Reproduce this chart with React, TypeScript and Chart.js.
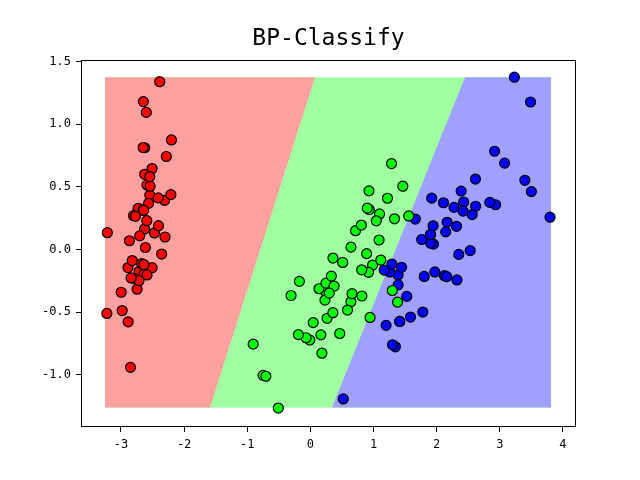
import React, { useEffect, useRef } from "react";
import { Chart, registerables } from "chart.js";

Chart.register(...registerables);

const chartTitle = "BP-Classify";
const xTicks = [-3, -2, -1, 0, 1, 2, 3, 4];
const yTicks = [-1.0, -0.5, 0.0, 0.5, 1.0, 1.5];
const xLimits = [-3.633, 4.207];
const yLimits = [-1.417, 1.511];

// decision-region mesh extent and class boundaries (x at mesh bottom, x at mesh top)
const meshX = [-3.253, 3.811];
const meshY = [-1.262, 1.373];
const boundaryRedGreen = [-1.59, 0.073];
const boundaryGreenBlue = [0.342, 2.449];
const regionColors = ["#FFA0A0", "#A0FFA0", "#A0A0FF"];

const classNames = ["setosa", "versicolor", "virginica"];
const pointColors = ["#FF0000", "#00FF00", "#0000FF"];

const setosaX = [-2.684, -2.714, -2.889, -2.745, -2.729, -2.281, -2.821, -2.626, -2.886, -2.673,
  -2.507, -2.613, -2.786, -3.224, -2.645, -2.386, -2.624, -2.648, -2.2, -2.588,
  -2.31, -2.544, -3.216, -2.303, -2.356, -2.507, -2.469, -2.562, -2.64, -2.632,
  -2.587, -2.41, -2.649, -2.599, -2.637, -2.866, -2.625, -2.801, -2.981, -2.59,
  -2.77, -2.849, -2.997, -2.406, -2.209, -2.714, -2.538, -2.839, -2.543, -2.703];
const setosaY = [0.319, -0.177, -0.145, -0.318, 0.327, 0.741, -0.089, 0.163, -0.578, -0.114,
  0.645, 0.015, -0.235, -0.511, 1.179, 1.338, 0.811, 0.312, 0.873, 0.514,
  0.391, 0.433, 0.133, 0.099, -0.037, -0.146, 0.131, 0.368, 0.312, -0.197,
  -0.204, 0.411, 0.813, 1.093, -0.121, 0.069, 0.599, 0.269, -0.488, 0.229,
  0.264, -0.941, -0.342, 0.189, 0.437, -0.25, 0.504, -0.228, 0.579, 0.108];

const versicolorX = [1.285, 0.932, 1.464, 0.183, 1.088, 0.642, 1.095, -0.749, 1.044, -0.009,
  -0.508, 0.512, 0.265, 0.985, -0.174, 0.928, 0.66, 0.236, 0.945, 0.045,
  1.116, 0.358, 1.298, 0.922, 0.715, 0.9, 1.332, 1.558, 0.813, -0.306,
  -0.068, -0.19, 0.136, 1.38, 0.588, 0.807, 1.221, 0.815, 0.246, 0.166,
  0.465, 0.891, 0.231, -0.705, 0.357, 0.332, 0.376, 0.643, -0.906, 0.299];
const versicolorY = [0.685, 0.318, 0.504, -0.828, 0.075, -0.418, 0.283, -1.005, 0.228, -0.723,
  -1.266, -0.104, -0.55, -0.125, -0.255, 0.467, -0.353, -0.334, -0.543, -0.584,
  -0.085, -0.069, -0.328, -0.183, 0.149, 0.329, 0.244, 0.267, -0.163, -0.368,
  -0.705, -0.68, -0.314, -0.421, -0.484, 0.194, 0.408, -0.372, -0.269, -0.682,
  -0.671, -0.034, -0.404, -1.012, -0.505, -0.213, -0.293, 0.018, -0.756, -0.349];

const virginicaX = [2.531, 1.415, 2.617, 1.972, 2.35, 3.397, 0.521, 2.933, 2.321, 2.917,
  1.662, 1.803, 2.166, 1.346, 1.586, 1.904, 1.95, 3.487, 3.796, 1.301,
  2.428, 1.199, 3.5, 1.389, 2.275, 2.614, 1.259, 1.291, 2.124, 2.388,
  2.842, 3.231, 2.159, 1.444, 1.781, 3.076, 2.144, 1.905, 1.169, 2.108,
  2.314, 1.922, 1.415, 2.563, 2.419, 1.944, 1.527, 1.764, 1.901, 1.39];
const virginicaY = [-0.01, -0.575, 0.344, -0.18, -0.04, 0.551, -1.193, 0.356, -0.244, 0.783,
  0.242, -0.216, 0.216, -0.777, -0.54, 0.119, 0.042, 1.176, 0.257, -0.761,
  0.378, -0.606, 0.461, -0.204, 0.335, 0.561, -0.18, -0.117, -0.21, 0.465,
  0.375, 1.374, -0.217, -0.143, -0.5, 0.688, 0.14, 0.049, -0.165, 0.372,
  0.184, 0.409, -0.575, 0.278, 0.305, 0.188, -0.375, 0.079, 0.117, -0.283];

const classX = [setosaX, versicolorX, virginicaX];
const classY = [setosaY, versicolorY, virginicaY];

const monoFont = "'DejaVu Sans Mono', monospace";

const regionsPlugin = {
  id: "regions",
  beforeDatasetsDraw(chart: any) {
    const { ctx, chartArea, scales } = chart;
    const sx = scales.x;
    const sy = scales.y;
    const px = (v: number) => sx.getPixelForValue(v);
    const py = (v: number) => sy.getPixelForValue(v);
    ctx.save();
    ctx.beginPath();
    ctx.rect(chartArea.left, chartArea.top, chartArea.right - chartArea.left, chartArea.bottom - chartArea.top);
    ctx.clip();
    // middle class covers whole mesh
    ctx.fillStyle = regionColors[1];
    ctx.fillRect(px(meshX[0]), py(meshY[1]), px(meshX[1]) - px(meshX[0]), py(meshY[0]) - py(meshY[1]));
    const poly = (pts: number[][], color: string) => {
      ctx.beginPath();
      pts.forEach((p, i) => {
        if (i === 0) ctx.moveTo(px(p[0]), py(p[1]));
        else ctx.lineTo(px(p[0]), py(p[1]));
      });
      ctx.closePath();
      ctx.fillStyle = color;
      ctx.fill();
    };
    poly([
      [meshX[0], meshY[0]],
      [meshX[0], meshY[1]],
      [boundaryRedGreen[1], meshY[1]],
      [boundaryRedGreen[0], meshY[0]],
    ], regionColors[0]);
    poly([
      [boundaryGreenBlue[0], meshY[0]],
      [boundaryGreenBlue[1], meshY[1]],
      [meshX[1], meshY[1]],
      [meshX[1], meshY[0]],
    ], regionColors[2]);
    ctx.restore();
  },
};

const framePlugin = {
  id: "frame",
  afterDatasetsDraw(chart: any) {
    const { ctx, chartArea } = chart;
    ctx.save();
    ctx.strokeStyle = "#000";
    ctx.lineWidth = 1;
    const l = Math.round(chartArea.left) + 0.5;
    const t = Math.round(chartArea.top) + 0.5;
    const r = Math.round(chartArea.right) - 0.5;
    const b = Math.round(chartArea.bottom) - 0.5;
    ctx.strokeRect(l, t, r - l, b - t);
    ctx.restore();
  },
};

export default function App() {
  const canvasRef = useRef<HTMLCanvasElement | null>(null);

  useEffect(() => {
    if (!canvasRef.current) return;
    const datasets = classNames.map((name, k) => ({
      label: name,
      data: classX[k].map((x, i) => ({ x, y: classY[k][i] })),
      backgroundColor: pointColors[k],
      borderColor: "#000000",
      borderWidth: 1.2,
      pointRadius: 5,
      pointHoverRadius: 5,
    }));
    const chart = new Chart(canvasRef.current, {
      type: "scatter",
      data: { datasets },
      plugins: [regionsPlugin, framePlugin],
      options: {
        responsive: false,
        animation: false,
        layout: { padding: { left: 0, right: 64, top: 0, bottom: 0 } },
        plugins: {
          legend: { display: false },
          tooltip: { enabled: false },
          title: {
            display: true,
            text: chartTitle,
            fullSize: false,
            color: "#000",
            font: { family: monoFont, size: 23, weight: "normal", lineHeight: 1.2 },
            padding: { top: 25, bottom: 7.4 },
          },
        },
        scales: {
          x: {
            type: "linear",
            min: xLimits[0],
            max: xLimits[1],
            afterBuildTicks: (s: any) => {
              s.ticks = xTicks.map((v) => ({ value: v }));
            },
            afterFit: (s: any) => {
              s.height = 53;
            },
            grid: { display: true, drawOnChartArea: false, drawTicks: true, tickLength: 5, color: "#000" },
            border: { display: false },
            ticks: {
              color: "#000",
              font: { family: monoFont, size: 12 },
              padding: 6,
              maxRotation: 0,
              autoSkip: false,
              callback: (v: any) => String(v),
            },
          },
          y: {
            type: "linear",
            min: yLimits[0],
            max: yLimits[1],
            afterBuildTicks: (s: any) => {
              s.ticks = yTicks.map((v) => ({ value: v }));
            },
            afterFit: (s: any) => {
              s.width = 81;
            },
            grid: { display: true, drawOnChartArea: false, drawTicks: true, tickLength: 5, color: "#000" },
            border: { display: false },
            ticks: {
              color: "#000",
              font: { family: monoFont, size: 12 },
              padding: 5,
              autoSkip: false,
              callback: (v: any) => Number(v).toFixed(1),
            },
          },
        },
      },
    });
    return () => chart.destroy();
  }, []);

  return (
    <div style={{ position: "fixed", left: 0, top: 0, width: 640, height: 480, background: "#fff" }}>
      <canvas ref={canvasRef} width={640} height={480} style={{ display: "block" }} />
    </div>
  );
}
